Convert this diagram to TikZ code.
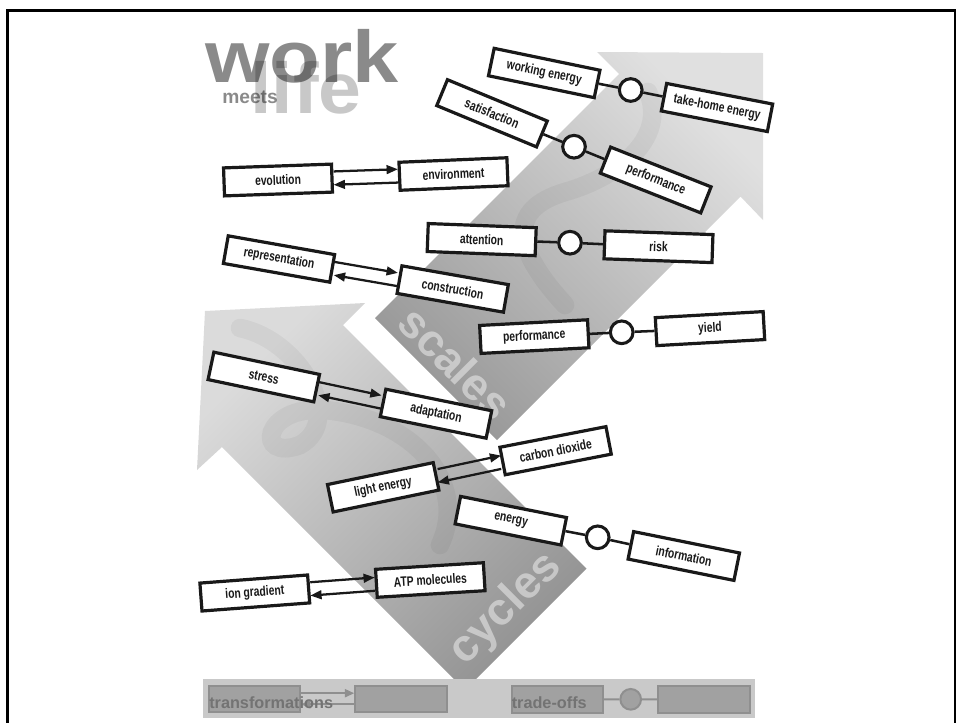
\documentclass[tikz,border=0pt]{standalone}
\usepackage{fontspec}
\setmainfont{Liberation Sans}
\newfontfamily\boxfont[FakeStretch=0.75]{Liberation Sans}
\usepackage{graphicx}
\usetikzlibrary{arrows.meta}
\definecolor{scaleshead}{gray}{0.88}
\definecolor{scalestail}{gray}{0.6}
\definecolor{cycleshead}{gray}{0.86}
\definecolor{cyclestail}{gray}{0.58}
\definecolor{legbar}{gray}{0.79}
\definecolor{legbox}{gray}{0.63}
\definecolor{legline}{gray}{0.56}
\definecolor{legtext}{gray}{0.45}
\definecolor{ink}{gray}{0.1}
\begin{document}
\begin{tikzpicture}[x=0.75pt,y=-0.75pt,
  box/.style={draw=ink, fill=white, line width=2.4pt, minimum width=81pt,
    minimum height=21pt, inner sep=0pt, text=ink,
    font={\boxfont\bfseries\fontsize{10.3}{12}\selectfont}},
  ring/.style={circle, draw=ink, fill=white, line width=2.3pt,
    minimum size=17pt, inner sep=0pt},
  link/.style={line width=1.9pt, draw=ink},
  arr/.style={line width=1.7pt, draw=ink, -{Triangle[length=8.5pt,width=6.5pt]}},
  lbox/.style={draw=legline, fill=legbox, line width=1.5pt, minimum width=68.5pt,
    minimum height=19.7pt, inner sep=0pt},
  lring/.style={circle, draw=legline, fill=legbox, line width=1.5pt,
    minimum size=15.5pt, inner sep=0pt},
  llink/.style={line width=1.5pt, draw=legline},
  larr/.style={line width=1.5pt, draw=legline, -{Triangle[length=7pt,width=6pt]}},
  swoosh/.style={line width=14pt, draw=black, opacity=0.045, line cap=round},
  bigword/.style={text=white, opacity=0.45, inner sep=0pt,
    font={\bfseries\fontsize{34}{34}\selectfont}},
]
\useasboundingbox (0,0) rectangle (957,722);

% big background arrows
\shade[top color=scaleshead, bottom color=scalestail, shading angle=-45]
  (375,318) -- (619,74) -- (597,52) -- (763,53) -- (763,220) -- (740.5,196.5) -- (497,440) -- cycle;
\shade[top color=cycleshead, bottom color=cyclestail, shading angle=45]
  (205,311) -- (365,303) -- (343,325) -- (586.5,568.5) -- (465,690) -- (222,447) -- (197,470) -- cycle;

% faint swooshes
\begin{scope}
\clip (375,318) -- (619,74) -- (597,52) -- (763,53) -- (763,220) -- (740.5,196.5) -- (497,440) -- cycle;
\draw[swoosh] (648,92) .. controls (668,140) and (615,178) .. (565,192)
   .. controls (505,210) and (515,250) .. (565,305);
\end{scope}
\begin{scope}
\clip (205,311) -- (365,303) -- (343,325) -- (586.5,568.5) -- (465,690) -- (222,447) -- (197,470) -- cycle;
\draw[swoosh] (240,328) .. controls (300,340) and (345,420) .. (300,445)
   .. controls (255,462) and (262,405) .. (325,410)
   .. controls (410,418) and (470,480) .. (440,545);
\end{scope}

\node[bigword, rotate=-45] (scalesword) at (456,363) {scales};
\node[bigword, rotate=45] (cyclesword) at (506,609) {cycles};

% logo
\node[anchor=base west, inner sep=0pt, text={rgb,255:red,200;green,200;blue,200},
  font={\bfseries\fontsize{54}{54}\selectfont}] (life) at (250,113) {\scalebox{1.07}[1]{life}};
\node[anchor=base west, inner sep=0pt, text=black, opacity=0.46,
  font={\bfseries\fontsize{55}{55}\selectfont}] (work) at (205,82) {\scalebox{1.13}[1]{work}};
\node[anchor=base west, inner sep=0pt, text=black, opacity=0.46,
  font={\bfseries\fontsize{14.4}{15}\selectfont}] (meets) at (222,103.5) {meets};

% boxes
\node[box, rotate=2]     (evo)  at (278,180)     {evolution};
\node[box, rotate=2.4]   (env)  at (453.5,174)   {environment};
\node[box, rotate=-10]   (rep)  at (279,259)     {representation};
\node[box, rotate=-10]   (con)  at (452.7,289)   {construction};
\node[box, rotate=-2.2]  (att)  at (481.7,239.6) {attention};
\node[box, rotate=-2]    (risk) at (658.5,246.7) {risk};
\node[box, rotate=3]     (perf) at (534.3,336.6) {performance};
\node[box, rotate=3.2]   (yld)  at (710,328.6)   {yield};
\node[box, rotate=-11.7] (wen)  at (544.2,73)    {working energy};
\node[box, rotate=-11]   (the)  at (717,107.5)   {take-home energy};
\node[box, rotate=-22.5] (sat)  at (492,113.3)   {satisfaction};
\node[box, rotate=-21.6] (perft) at (655.7,180)  {performance};
\node[box, rotate=-11.9] (str)  at (263.8,377)   {stress};
\node[box, rotate=-11.5] (ada)  at (436,413.7)   {adaptation};
\node[box, rotate=11.7]  (lig)  at (383.2,487.3) {light energy};
\node[box, rotate=11]    (cdx)  at (555.6,450.7) {carbon dioxide};
\node[box, rotate=-11.3] (ene)  at (510.8,520.7) {energy};
\node[box, rotate=-11.4] (inf)  at (683.8,556)   {information};
\node[box, rotate=3.5]   (atp)  at (430.3,580)   {ATP molecules};
\node[box, rotate=4.3]   (ion)  at (254.8,593)   {ion gradient};

% rings
\node[ring] (c1) at (630.7,90) {};
\node[ring] (c2) at (574,146.7) {};
\node[ring] (c3) at (570,242.7) {};
\node[ring] (c4) at (621.7,332.3) {};
\node[ring] (c5) at (597.7,537.3) {};

% trade-off links
\draw[link] (wen) -- (c1) -- (the);
\draw[link] (sat) -- (c2) -- (perft);
\draw[link] (att) -- (c3) -- (risk);
\draw[link] (perf) -- (c4) -- (yld);
\draw[link] (ene) -- (c5) -- (inf);

% transformation arrows
\foreach \a/\b in {evo/env, rep/con, str/ada, lig/cdx, ion/atp}{
  \draw[arr, transform canvas={yshift=5pt}] (\a) -- (\b);
  \draw[arr, transform canvas={yshift=-5pt}] (\b) -- (\a);
}

% legend
\fill[legbar] (203,679) rectangle (755,718);
\node[lbox] (lg1) at (254.4,699.2) {};
\node[lbox] (lg2) at (400.9,699.2) {};
\node[lbox] (lg3) at (557.4,699.6) {};
\node[lring] (lgc) at (630.7,699.3) {};
\node[lbox] (lg4) at (704,699.6) {};
\draw[larr, transform canvas={yshift=4.5pt}] (lg1) -- (lg2);
\draw[larr, transform canvas={yshift=-3.8pt}] (lg2) -- (lg1);
\draw[llink] (lg3) -- (lgc) -- (lg4);
\node[anchor=base west, inner sep=0pt, text=legtext,
  font={\bfseries\fontsize{12.2}{13}\selectfont}] (ltr) at (209,708) {transformations};
\node[anchor=base west, inner sep=0pt, text=legtext,
  font={\bfseries\fontsize{12.2}{13}\selectfont}] (lto) at (511.5,708) {trade-offs};

% frame
\draw[line width=2pt] (7.7,760) -- (7.7,10.7) -- (955,10.7) -- (955,760);
\end{tikzpicture}
\end{document}
